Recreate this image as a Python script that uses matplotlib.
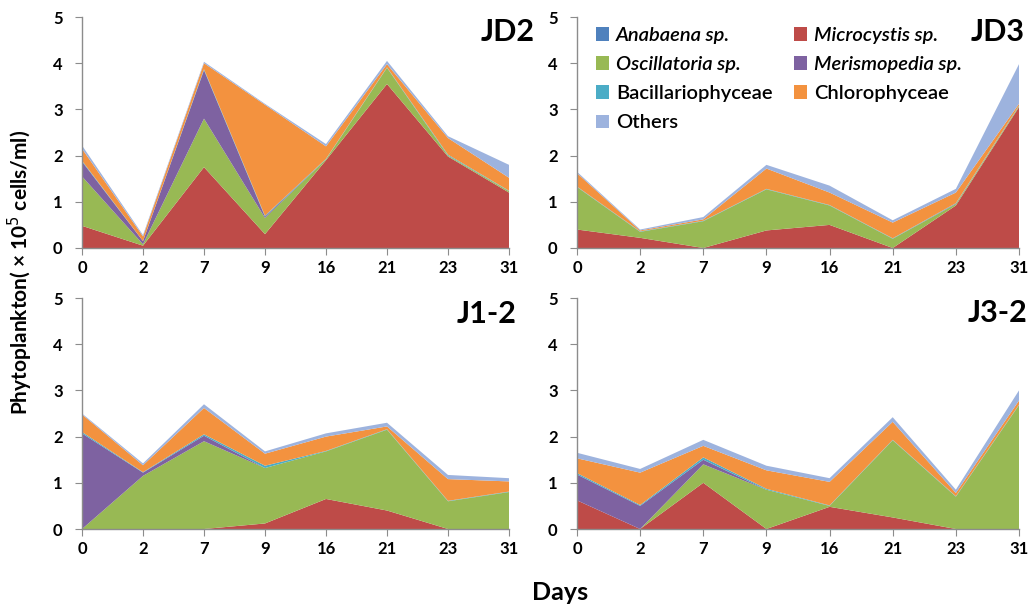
import matplotlib
matplotlib.use("Agg")
import matplotlib.pyplot as plt
from matplotlib.patches import Patch
import numpy as np

plt.rcParams['font.family'] = ['Lato', 'DejaVu Sans']

days = ["0", "2", "7", "9", "16", "21", "23", "31"]

groups = ["Anabaena sp.", "Microcystis sp.", "Oscillatoria sp.", "Merismopedia sp.",
          "Bacillariophyceae", "Chlorophyceae", "Others"]
italic_groups = {"Anabaena sp.", "Microcystis sp.", "Oscillatoria sp.", "Merismopedia sp."}
colors = ["#4F81BD", "#BE4B48", "#98B954", "#7E62A1", "#4BACC6", "#F3923F", "#9DB3DE"]

# Cell densities (x 10^5 cells/ml) per group and sampling day
jd2_anabaena = [0, 0, 0, 0, 0, 0, 0, 0]
jd2_microcystis = [0.48, 0.05, 1.75, 0.30, 1.90, 3.55, 1.98, 1.20]
jd2_oscillatoria = [1.07, 0.03, 1.05, 0.35, 0.02, 0.35, 0.02, 0.03]
jd2_merismopedia = [0.32, 0.07, 1.05, 0.03, 0, 0, 0, 0]
jd2_bacillario = [0.02, 0, 0.02, 0.02, 0.01, 0.01, 0.02, 0.01]
jd2_chloro = [0.26, 0.10, 0.13, 2.40, 0.27, 0.07, 0.36, 0.28]
jd2_others = [0.07, 0.03, 0.03, 0.02, 0.05, 0.07, 0.04, 0.28]

jd3_anabaena = [0, 0, 0, 0, 0, 0, 0, 0]
jd3_microcystis = [0.40, 0.22, 0.00, 0.38, 0.50, 0.00, 0.92, 3.05]
jd3_oscillatoria = [0.92, 0.13, 0.58, 0.89, 0.42, 0.20, 0.03, 0.02]
jd3_merismopedia = [0, 0, 0, 0, 0, 0, 0.01, 0]
jd3_bacillario = [0.01, 0.01, 0.01, 0.01, 0.01, 0.01, 0.01, 0.01]
jd3_chloro = [0.29, 0.02, 0.03, 0.44, 0.27, 0.34, 0.23, 0.04]
jd3_others = [0.03, 0.02, 0.05, 0.08, 0.15, 0.05, 0.08, 0.86]

j12_anabaena = [0, 0, 0, 0, 0, 0, 0, 0]
j12_microcystis = [0, 0, 0, 0.12, 0.65, 0.40, 0, 0]
j12_oscillatoria = [0, 1.15, 1.90, 1.20, 1.03, 1.75, 0.60, 0.80]
j12_merismopedia = [2.07, 0.07, 0.12, 0, 0, 0, 0, 0]
j12_bacillario = [0.03, 0.01, 0.03, 0.05, 0.01, 0.01, 0.01, 0.01]
j12_chloro = [0.38, 0.15, 0.57, 0.26, 0.31, 0.06, 0.47, 0.22]
j12_others = [0.02, 0.04, 0.08, 0.05, 0.07, 0.08, 0.09, 0.07]

j32_anabaena = [0, 0, 0, 0, 0, 0, 0, 0]
j32_microcystis = [0.62, 0, 1.00, 0, 0.48, 0.25, 0, 0]
j32_oscillatoria = [0, 0, 0.40, 0.85, 0.02, 1.67, 0.70, 2.68]
j32_merismopedia = [0.56, 0.50, 0.10, 0, 0, 0, 0, 0]
j32_bacillario = [0.03, 0.02, 0.05, 0.02, 0.01, 0.01, 0.01, 0.01]
j32_chloro = [0.32, 0.70, 0.25, 0.40, 0.51, 0.39, 0.07, 0.09]
j32_others = [0.12, 0.08, 0.13, 0.10, 0.08, 0.10, 0.07, 0.22]

stations = {
    "JD2": [jd2_anabaena, jd2_microcystis, jd2_oscillatoria, jd2_merismopedia,
            jd2_bacillario, jd2_chloro, jd2_others],
    "JD3": [jd3_anabaena, jd3_microcystis, jd3_oscillatoria, jd3_merismopedia,
            jd3_bacillario, jd3_chloro, jd3_others],
    "J1-2": [j12_anabaena, j12_microcystis, j12_oscillatoria, j12_merismopedia,
             j12_bacillario, j12_chloro, j12_others],
    "J3-2": [j32_anabaena, j32_microcystis, j32_oscillatoria, j32_merismopedia,
             j32_bacillario, j32_chloro, j32_others],
}

W, H = 1033, 609
fig = plt.figure(figsize=(W / 100, H / 100), dpi=100)

# panel boxes in pixels: left, right, top, bottom
boxes = {
    "JD2": (82, 509, 17, 248),
    "JD3": (577, 1019, 17, 248),
    "J1-2": (82, 509, 298, 529),
    "J3-2": (577, 1019, 298, 529),
}
title_pos = {"JD2": (535, 32), "JD3": (1025, 32), "J1-2": (517, 314), "J3-2": (1027, 313)}

x = np.arange(len(days))
axes = {}
for name, series in stations.items():
    l, r, t, b = boxes[name]
    ax = fig.add_axes([l / W, 1 - b / H, (r - l) / W, (b - t) / H])
    ax.stackplot(x, *series, colors=colors, linewidth=0)
    ax.set_xlim(0, len(days) - 1)
    ax.set_ylim(0, 5)
    ax.set_xticks(x)
    ax.set_xticklabels(days)
    ax.set_yticks(range(6))
    for s in ("top", "right"):
        ax.spines[s].set_visible(False)
    for s in ("left", "bottom"):
        ax.spines[s].set_color("#8c8c8c")
        ax.spines[s].set_linewidth(1.0)
    ax.tick_params(axis="both", direction="out", length=5, color="#8c8c8c",
                   labelsize=12)
    ax.tick_params(axis="y", pad=9)
    ax.tick_params(axis="x", pad=4)
    for lab in ax.get_xticklabels() + ax.get_yticklabels():
        lab.set_fontweight("bold")
    tx, ty = title_pos[name]
    fig.text(tx / W, 1 - ty / H, name, ha="right", va="center",
             fontsize=22, fontweight="bold")
    axes[name] = ax

# legend in the JD3 panel, filled row by row
handles = [Patch(facecolor=c, edgecolor="none") for c in colors]
order = [0, 2, 4, 6, 1, 3, 5]
leg = axes["JD3"].legend([handles[i] for i in order], [groups[i] for i in order],
                         ncol=2, loc="upper left", bbox_to_anchor=(0.02, 1.0),
                         frameon=False, handlelength=0.65,
                         handleheight=0.65, handletextpad=0.35, columnspacing=1.05,
                         labelspacing=0.6, borderpad=0,
                         prop={"size": 14.5, "weight": "semibold"})
for txt in leg.get_texts():
    if txt.get_text() in italic_groups:
        txt.set_fontstyle("italic")

fig.text(20 / W, 1 - 272 / H, "Phytoplankton( \u00d7 10$^5$ cells/ml)", rotation=90,
         ha="center", va="center", fontsize=15, fontweight="bold")
fig.text(560 / W, 1 - 592 / H, "Days", ha="center", va="center",
         fontsize=18, fontweight="bold")

fig.savefig("out.png", dpi=100)
